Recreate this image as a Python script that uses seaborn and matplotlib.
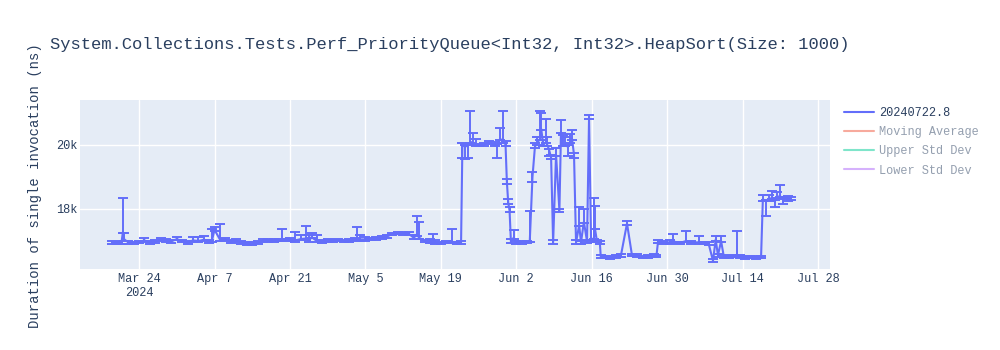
import matplotlib
matplotlib.use("Agg")
import matplotlib.pyplot as plt
from matplotlib.lines import Line2D
import seaborn as sns
import pandas as pd

title = "System.Collections.Tests.Perf_PriorityQueue<Int32, Int32>.HeapSort(Size: 1000)"
y_label = "Duration of single invocation (ns)"
series_name = "20240722.8"
legend_only = ["Moving Average", "Upper Std Dev", "Lower Std Dev"]

dates = [
    "2024-03-19 00:00", "2024-03-20 00:00", "2024-03-20 18:00", "2024-03-21 00:00", "2024-03-21 06:00",
    "2024-03-22 00:00", "2024-03-23 00:00", "2024-03-24 00:00", "2024-03-25 00:00", "2024-03-26 00:00",
    "2024-03-27 00:00", "2024-03-28 00:00", "2024-03-29 00:00", "2024-03-30 00:00", "2024-03-31 00:00",
    "2024-04-01 00:00", "2024-04-02 00:00", "2024-04-03 00:00", "2024-04-04 00:00", "2024-04-05 00:00",
    "2024-04-06 00:00", "2024-04-06 12:00", "2024-04-07 00:00", "2024-04-08 00:00", "2024-04-09 00:00",
    "2024-04-10 00:00", "2024-04-11 00:00", "2024-04-12 00:00", "2024-04-13 00:00", "2024-04-14 00:00",
    "2024-04-15 00:00", "2024-04-16 00:00", "2024-04-17 00:00", "2024-04-18 00:00", "2024-04-19 00:00",
    "2024-04-19 12:00", "2024-04-20 00:00", "2024-04-21 00:00", "2024-04-22 00:00", "2024-04-23 00:00",
    "2024-04-24 00:00", "2024-04-24 12:00", "2024-04-25 00:00", "2024-04-26 00:00", "2024-04-27 00:00",
    "2024-04-28 00:00", "2024-04-29 00:00", "2024-04-30 00:00", "2024-05-01 00:00", "2024-05-02 00:00",
    "2024-05-03 00:00", "2024-05-03 12:00", "2024-05-04 00:00", "2024-05-05 00:00", "2024-05-06 00:00",
    "2024-05-07 00:00", "2024-05-08 00:00", "2024-05-09 00:00", "2024-05-10 00:00", "2024-05-11 00:00",
    "2024-05-12 00:00", "2024-05-13 00:00", "2024-05-14 00:00", "2024-05-14 12:00", "2024-05-15 00:00",
    "2024-05-16 00:00", "2024-05-17 00:00", "2024-05-17 12:00", "2024-05-18 00:00", "2024-05-19 00:00",
    "2024-05-20 00:00", "2024-05-21 00:00", "2024-05-22 00:00", "2024-05-22 18:00", "2024-05-23 00:00",
    "2024-05-23 12:00", "2024-05-24 00:00", "2024-05-24 12:00", "2024-05-25 00:00", "2024-05-25 12:00",
    "2024-05-26 00:00", "2024-05-27 00:00", "2024-05-28 00:00", "2024-05-29 00:00", "2024-05-29 12:00",
    "2024-05-30 00:00", "2024-05-30 12:00", "2024-05-31 00:00", "2024-05-31 06:00", "2024-05-31 12:00",
    "2024-05-31 18:00", "2024-06-01 00:00", "2024-06-01 12:00", "2024-06-02 00:00", "2024-06-03 00:00",
    "2024-06-04 00:00", "2024-06-04 12:00", "2024-06-05 00:00", "2024-06-05 11:00", "2024-06-05 20:00",
    "2024-06-06 10:00", "2024-06-06 15:00", "2024-06-07 00:00", "2024-06-07 13:00", "2024-06-07 18:00",
    "2024-06-08 02:00", "2024-06-08 11:00", "2024-06-08 20:00", "2024-06-09 09:00", "2024-06-10 00:00",
    "2024-06-10 07:00", "2024-06-10 14:00", "2024-06-11 00:00", "2024-06-11 13:00", "2024-06-12 00:00",
    "2024-06-12 08:00", "2024-06-12 17:00", "2024-06-13 02:00", "2024-06-13 16:00", "2024-06-14 00:00",
    "2024-06-14 13:00", "2024-06-15 03:00", "2024-06-15 12:00", "2024-06-15 21:00", "2024-06-16 10:00",
    "2024-06-16 14:00", "2024-06-16 23:00", "2024-06-17 12:00", "2024-06-17 16:00", "2024-06-18 11:00",
    "2024-06-19 09:00", "2024-06-20 12:00", "2024-06-21 10:00", "2024-06-22 13:00", "2024-06-23 11:00",
    "2024-06-24 09:00", "2024-06-25 12:00", "2024-06-26 10:00", "2024-06-27 11:00", "2024-06-28 00:00",
    "2024-06-28 07:00", "2024-06-29 07:00", "2024-06-30 12:00", "2024-07-01 00:00", "2024-07-02 09:00",
    "2024-07-03 12:00", "2024-07-04 11:00", "2024-07-05 20:00", "2024-07-06 18:00", "2024-07-07 16:00",
    "2024-07-08 12:00", "2024-07-09 00:00", "2024-07-09 10:00", "2024-07-10 00:00", "2024-07-10 12:00",
    "2024-07-11 12:00", "2024-07-12 09:00", "2024-07-13 00:00", "2024-07-13 11:00", "2024-07-14 10:00",
    "2024-07-15 08:00", "2024-07-16 12:00", "2024-07-17 10:00", "2024-07-17 18:00", "2024-07-18 08:00",
    "2024-07-18 21:00", "2024-07-19 11:00", "2024-07-20 00:00", "2024-07-20 10:00", "2024-07-20 23:00",
    "2024-07-21 12:00", "2024-07-21 20:00", "2024-07-22 10:00", "2024-07-22 23:00",
]

values = [
    16950, 16940, 16960, 17280, 17050, 16960, 16940, 16970, 17020, 16950,
    16990, 17040, 17020, 16990, 17060, 17000, 16950, 17020, 17000, 17040,
    16990, 17000, 17350, 17050, 17030, 16990, 17010, 16950, 16920, 16930,
    16960, 17000, 17020, 17010, 17030, 17040, 17030, 17050, 17020, 17060,
    17080, 17000, 17120, 17000, 16990, 17010, 17000, 17030, 17000, 17010,
    17030, 17060, 17050, 17050, 17060, 17080, 17100, 17140, 17220, 17250,
    17240, 17230, 17100, 17200, 17100, 17000, 16980, 16990, 16960, 16940,
    16970, 16980, 16940, 16950, 20000, 19950, 19980, 20100, 20050, 20000,
    20000, 20020, 20080, 20000, 19980, 20200, 20100, 20020, 18850, 18200,
    17950, 16980, 17100, 16960, 16950, 16970, 17000, 19000, 19950, 20050,
    20200, 20500, 20000, 20100, 20000, 19850, 19600, 16950, 19700, 17950,
    20400, 20000, 20000, 19950, 20100, 20200, 19700, 16950, 17500, 16950,
    17600, 16980, 20850, 17000, 17100, 17400, 17000, 16960, 16520, 16500,
    16480, 16510, 16550, 17550, 16560, 16540, 16500, 16520, 16540, 16530,
    16970, 16950, 16960, 16990, 16940, 17000, 16950, 16960, 16940, 16930,
    16380, 17050, 16550, 17000, 16520, 16500, 16530, 16550, 16510, 16490,
    16500, 16480, 16500, 18300, 18250, 18300, 18350, 18250, 18380, 18400,
    18300, 18350, 18300, 18320,
]

err_plus = [
    60, 40, 40, 1060, 200, 40, 40, 40, 60, 40,
    40, 60, 40, 40, 60, 40, 40, 100, 110, 120,
    40, 380, 80, 480, 60, 40, 60, 40, 40, 40,
    40, 70, 40, 40, 40, 340, 40, 40, 250, 120,
    400, 200, 130, 180, 40, 40, 40, 40, 40, 40,
    60, 380, 150, 60, 40, 40, 60, 40, 40, 40,
    40, 40, 100, 580, 500, 40, 80, 230, 80, 40,
    40, 380, 40, 40, 60, 60, 60, 950, 330, 200,
    40, 40, 40, 100, 40, 330, 950, 100, 80, 100,
    120, 80, 250, 40, 40, 40, 950, 150, 100, 200,
    870, 500, 150, 700, 250, 40, 100, 80, 200, 40,
    380, 300, 250, 40, 250, 270, 40, 80, 550, 40,
    400, 40, 80, 40, 1230, 700, 40, 40, 50, 40,
    40, 40, 50, 80, 40, 40, 40, 40, 40, 40,
    60, 40, 80, 230, 40, 300, 40, 200, 40, 40,
    50, 120, 40, 150, 40, 40, 40, 750, 40, 40,
    40, 40, 40, 150, 40, 150, 200, 40, 150, 350,
    40, 40, 100, 40,
]

err_minus = [
    40, 40, 40, 40, 40, 40, 40, 40, 40, 40,
    40, 40, 40, 40, 40, 40, 40, 40, 40, 40,
    40, 40, 40, 40, 40, 40, 40, 40, 40, 40,
    40, 40, 40, 40, 40, 40, 40, 40, 40, 40,
    40, 40, 40, 40, 40, 40, 40, 40, 40, 40,
    40, 40, 40, 40, 40, 40, 40, 40, 40, 40,
    40, 40, 40, 40, 40, 40, 40, 40, 40, 40,
    40, 40, 40, 40, 400, 400, 400, 40, 40, 40,
    40, 40, 40, 40, 380, 40, 40, 40, 80, 40,
    40, 40, 40, 40, 40, 40, 40, 150, 40, 40,
    40, 40, 40, 40, 40, 200, 40, 40, 40, 40,
    40, 40, 40, 300, 40, 40, 100, 40, 40, 40,
    40, 40, 40, 40, 40, 40, 40, 40, 40, 40,
    40, 40, 40, 40, 40, 40, 40, 40, 40, 40,
    40, 40, 40, 40, 40, 40, 40, 40, 40, 40,
    40, 40, 40, 40, 40, 40, 40, 40, 40, 40,
    40, 40, 40, 40, 470, 40, 40, 200, 40, 40,
    150, 40, 40, 40,
]

x_tick_dates = ["2024-03-24", "2024-04-07", "2024-04-21", "2024-05-05", "2024-05-19",
                "2024-06-02", "2024-06-16", "2024-06-30", "2024-07-14", "2024-07-28"]
x_tick_labels = ["Mar 24\n2024", "Apr 7", "Apr 21", "May 5", "May 19",
                 "Jun 2", "Jun 16", "Jun 30", "Jul 14", "Jul 28"]
y_tick_values = [18000, 20000]
y_tick_labels = ["18k", "20k"]

MAIN = "#636efa"
TEXT = "#2a3f5f"
FADED_TEXT = "#949faf"
FADED_LINES = ["#f7aa9d", "#7fe5ca", "#d5b1fc"]

sns.set_theme(style="darkgrid")
plt.rcParams["font.family"] = ["Liberation Mono", "DejaVu Sans Mono"]

df = pd.DataFrame({"date": pd.to_datetime(dates), "value": values})

fig = plt.figure(figsize=(10, 3.5), dpi=100)
fig.patch.set_facecolor("white")
ax = fig.add_axes([0.080, 1 - 269 / 350, 0.750, 169 / 350])
ax.set_facecolor("#E5ECF6")

ax.errorbar(df["date"].to_numpy(), df["value"].to_numpy(), yerr=[err_minus, err_plus],
            fmt="none", ecolor=MAIN, elinewidth=1.4, capsize=3.6, capthick=1.4, zorder=2)
sns.lineplot(data=df, x="date", y="value", ax=ax, color=MAIN, linewidth=1.5,
             estimator=None, sort=False, legend=False, zorder=3)

ax.set_xlim(pd.Timestamp("2024-03-13 01:00"), pd.Timestamp("2024-07-30 05:00"))
ax.set_ylim(16125, 21406)
ax.set_xticks(pd.to_datetime(x_tick_dates))
ax.set_xticklabels(x_tick_labels)
ax.set_yticks(y_tick_values)
ax.set_yticklabels(y_tick_labels)
ax.grid(True, color="white", linewidth=1.0)
for s in ax.spines.values():
    s.set_visible(False)
ax.tick_params(axis="both", length=0, labelsize=8.6, colors=TEXT)
ax.tick_params(axis="x", pad=3)
ax.tick_params(axis="y", pad=2)
ax.set_xlabel("")
ax.set_ylabel("")

fig.text(0.035, 1 - 186 / 350, y_label, rotation=90, ha="center", va="center",
         fontsize=10, color=TEXT)
fig.text(0.050, 1 - 45 / 350, title, ha="left", va="center", fontsize=12.3, color=TEXT)

handles = [Line2D([], [], color=MAIN, linewidth=1.5)]
handles += [Line2D([], [], color=c, linewidth=1.5) for c in FADED_LINES]
leg = fig.legend(handles, [series_name] + legend_only, loc="upper left",
                 bbox_to_anchor=(0.844, 1 - 107 / 350), frameon=False, fontsize=8.6,
                 handlelength=2.5, handletextpad=0.45, labelspacing=0.6,
                 borderaxespad=0, borderpad=0)
for i, t in enumerate(leg.get_texts()):
    t.set_color(TEXT if i == 0 else FADED_TEXT)

fig.savefig("out.png", dpi=100)
